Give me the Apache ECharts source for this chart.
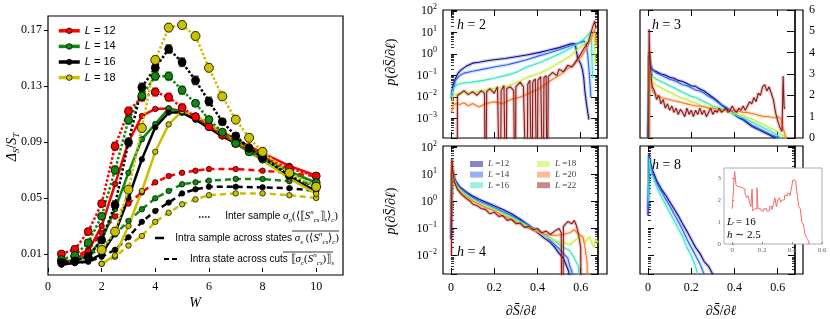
<!DOCTYPE html>
<html><head><meta charset="utf-8">
<script src="https://cdn.jsdelivr.net/npm/echarts@6/dist/echarts.min.js"></script>
<style>html,body{margin:0;padding:0;background:#fff}#c{width:830px;height:319px}</style>
</head><body><div id="c"></div>
<script>
// ---------------- Left panel data ----------------
const W = [0.5,1,1.5,2,2.5,3,3.5,4,4.5,5,5.5,6,6.5,7,7.5,8,9,10];
const inter12 = [0.0100,0.0134,0.0260,0.0460,0.0870,0.1120,0.1220,0.1257,0.1220,0.1145,0.1080,0.1010,0.0950,0.0890,0.0840,0.0790,0.0712,0.0657];
const inter14 = [0.0060,0.0090,0.0180,0.0370,0.0700,0.1057,0.1230,0.1370,0.1370,0.1270,0.1176,0.1060,0.0970,0.0890,0.0830,0.0780,0.0680,0.0610];
const inter16 = [0.0040,0.0050,0.0080,0.0200,0.0450,0.0898,0.1290,0.1430,0.1564,0.1470,0.1340,0.1190,0.1045,0.0943,0.0855,0.0790,0.0660,0.0580];
const inter18 = [null,null,null,0.0129,0.0260,0.0560,0.1000,0.1486,0.1717,0.1736,0.1657,0.1430,0.1226,0.1060,0.0930,0.0830,0.0680,0.0580];
const intraS12 = [0.0040,0.0060,0.0120,0.0300,0.0600,0.0900,0.1086,0.1136,0.1140,0.1120,0.1070,0.1020,0.0970,0.0920,0.0870,0.0820,0.0730,0.0660];
const intraS14 = [0.0035,0.0050,0.0090,0.0200,0.0420,0.0680,0.0920,0.1028,0.1140,0.1110,0.1060,0.1010,0.0960,0.0910,0.0860,0.0800,0.0690,0.0610];
const intraS16 = [0.0025,0.0035,0.0050,0.0100,0.0250,0.0500,0.0776,0.1005,0.1110,0.1110,0.1060,0.1000,0.0940,0.0890,0.0830,0.0770,0.0650,0.0550];
const intraS18 = [null,null,null,0.0030,0.0090,0.0300,0.0550,0.0830,0.1026,0.1120,0.1090,0.1030,0.0960,0.0900,0.0830,0.0770,0.0640,0.0530];
const intraC12 = [0.0050,0.0080,0.0130,0.0250,0.0367,0.0460,0.0540,0.0612,0.0657,0.0680,0.0695,0.0707,null,0.0707,null,0.0695,0.0680,0.0655];
const intraC14 = [0.0035,0.0055,0.0090,0.0140,0.0240,0.0336,0.0420,0.0498,0.0550,0.0598,0.0612,0.0624,null,0.0636,null,0.0636,0.0620,0.0600];
const intraC16 = [0.0025,0.0035,0.0045,0.0080,0.0130,0.0220,0.0330,0.0407,0.0467,0.0533,0.0562,0.0580,null,0.0580,null,0.0576,0.0570,0.0550];
const intraC18 = [null,null,null,0.0030,0.0080,0.0160,0.0229,0.0330,0.0395,0.0455,0.0490,0.0520,null,0.0533,null,0.0533,0.0520,0.0500];
const err12 = [0.001,0.001,0.002,0.002,0.003,0.003,0.003,0.003,0.003,0.003,0.002,0.002,0.002,0.002,0.002,0.002,0.002,0.002];
const err14 = [0.001,0.001,0.002,0.002,0.003,0.003,0.003,0.003,0.003,0.003,0.002,0.002,0.002,0.002,0.002,0.002,0.002,0.002];
const err16 = [0.001,0.001,0.002,0.002,0.003,0.003,0.003,0.003,0.003,0.003,0.003,0.003,0.002,0.002,0.002,0.002,0.002,0.002];
const err18 = [0,0,0,0.002,0.003,0.003,0.003,0.003,0.003,0.003,0.003,0.003,0.003,0.003,0.003,0.003,0.002,0.002];
const leftTicksX = [0,2,4,6,8,10];
const leftTicksY = [0.01,0.05,0.09,0.13,0.17];

// ---------------- Right panels data ----------------
const Lright = ['12','14','16','18','20','22'];
const rightTicksX = [0,0.2,0.4,0.6];
const h2_12 = [[0.002,0.008],[0.008,0.03],[0.018,0.063],[0.03,0.12],[0.048,0.19],[0.07,0.27],[0.1,0.38],[0.13,0.42],[0.16,0.48],[0.2,0.55],[0.25,0.62],[0.3,0.75],[0.35,0.9],[0.41,1.2],[0.45,1.5],[0.5,2.0],[0.53,2.5],[0.55,2.9],[0.565,3.1],[0.575,2.8],[0.585,0.7],[0.6,0.35],[0.608,0.19],[0.614,0.08],[0.619,0.02],[0.628,0.004],[0.638,0.0009]];
const h2_14 = [[0.002,0.01],[0.008,0.02],[0.02,0.06],[0.04,0.1],[0.06,0.13],[0.1,0.16],[0.15,0.2],[0.2,0.25],[0.26,0.32],[0.3,0.4],[0.35,0.55],[0.41,0.85],[0.45,1.1],[0.5,1.6],[0.54,2.2],[0.57,2.8],[0.6,3.5],[0.615,4.0],[0.625,3.2],[0.632,1.0],[0.638,0.2],[0.643,0.04],[0.647,0.01]];
const h2_16 = [[0.002,0.01],[0.01,0.025],[0.03,0.04],[0.06,0.045],[0.1,0.05],[0.15,0.06],[0.2,0.075],[0.25,0.1],[0.3,0.14],[0.35,0.25],[0.41,0.4],[0.45,0.6],[0.5,1.0],[0.55,1.8],[0.58,2.8],[0.61,4.5],[0.63,7],[0.645,11],[0.65,5],[0.652,0.5],[0.655,0.08]];
const h2_18 = [[0.002,0.005],[0.01,0.012],[0.03,0.015],[0.06,0.016],[0.1,0.017],[0.15,0.02],[0.2,0.025],[0.25,0.03],[0.3,0.045],[0.35,0.08],[0.41,0.13],[0.45,0.2],[0.5,0.4],[0.55,0.8],[0.57,1.2],[0.6,2.2],[0.63,4],[0.65,6],[0.662,7],[0.665,2],[0.668,0.3]];
const h2_20 = [[0.003,0.002],[0.01,0.004],[0.02,0.005],[0.04,0.0045],[0.06,0.0055],[0.08,0.004],[0.1,0.005],[0.13,0.0035],[0.16,0.005],[0.2,0.006],[0.24,0.005],[0.28,0.008],[0.32,0.01],[0.36,0.015],[0.41,0.025],[0.45,0.05],[0.5,0.1],[0.53,0.18],[0.57,0.33],[0.6,0.7],[0.63,2],[0.65,6],[0.665,14],[0.672,16],[0.674,2.5]];
const h2_22 = [[0.028,1e-8],[0.03,0.012],[0.045,0.015],[0.06,0.02],[0.08,0.013],[0.1,0.018],[0.12,0.012],[0.14,0.02],[0.155,0.015],[0.16,1e-8],[0.165,0.018],[0.18,0.025],[0.2,0.015],[0.215,0.03],[0.228,1e-8],[0.232,0.02],[0.245,0.035],[0.254,1e-8],[0.258,0.025],[0.275,0.03],[0.29,0.02],[0.297,1e-8],[0.3,0.03],[0.32,0.05],[0.335,0.03],[0.352,1e-8],[0.355,0.04],[0.365,0.06],[0.375,1e-8],[0.378,0.05],[0.39,0.07],[0.398,1e-8],[0.402,0.06],[0.415,0.09],[0.426,1e-8],[0.43,0.08],[0.44,0.1],[0.445,1e-8],[0.45,0.09],[0.47,0.14],[0.49,0.1],[0.5,0.2],[0.52,0.15],[0.54,0.3],[0.56,0.25],[0.58,0.5],[0.6,1.0],[0.62,2.2],[0.635,3.5],[0.645,8],[0.655,18],[0.665,35],[0.67,15]];

const h3_12 = [[0,0],[0.004,3.8],[0.01,3.4],[0.02,3.2],[0.04,3.1],[0.06,3.0],[0.08,2.95],[0.1,2.85],[0.12,2.8],[0.14,2.7],[0.16,2.65],[0.18,2.55],[0.2,2.45],[0.22,2.42],[0.24,2.3],[0.26,2.2],[0.28,2.05],[0.3,1.9],[0.32,1.75],[0.34,1.55],[0.36,1.4],[0.38,1.25],[0.4,1.1],[0.42,0.95],[0.44,0.85],[0.46,0.7],[0.48,0.55],[0.5,0.45],[0.52,0.35],[0.54,0.25],[0.56,0.15],[0.58,0.05],[0.59,0]];
const h3_14 = [[0.002,0],[0.005,4.0],[0.01,3.5],[0.02,3.2],[0.04,3.05],[0.06,2.95],[0.08,2.85],[0.1,2.75],[0.12,2.7],[0.14,2.6],[0.16,2.5],[0.18,2.45],[0.2,2.35],[0.22,2.25],[0.24,2.2],[0.26,2.1],[0.28,1.95],[0.3,1.85],[0.32,1.7],[0.34,1.55],[0.36,1.45],[0.38,1.3],[0.4,1.15],[0.42,1.0],[0.44,0.9],[0.46,0.75],[0.48,0.6],[0.5,0.5],[0.52,0.4],[0.54,0.3],[0.56,0.2],[0.58,0.1],[0.6,0.02],[0.605,0]];
const h3_16 = [[0.003,0],[0.005,3.9],[0.01,3.2],[0.02,2.9],[0.04,2.75],[0.06,2.65],[0.08,2.55],[0.1,2.45],[0.12,2.35],[0.14,2.25],[0.16,2.15],[0.18,2.05],[0.2,1.95],[0.22,1.9],[0.24,1.8],[0.26,1.7],[0.28,1.6],[0.3,1.5],[0.32,1.45],[0.34,1.35],[0.36,1.3],[0.38,1.2],[0.4,1.1],[0.42,1.0],[0.44,0.95],[0.46,0.85],[0.48,0.75],[0.5,0.65],[0.52,0.55],[0.54,0.45],[0.56,0.35],[0.58,0.25],[0.6,0.12],[0.615,0.02],[0.62,0]];
const h3_18 = [[0.003,0],[0.005,4.1],[0.01,3.0],[0.02,2.6],[0.04,2.45],[0.06,2.35],[0.08,2.25],[0.1,2.15],[0.12,2.05],[0.14,1.95],[0.16,1.85],[0.18,1.8],[0.2,1.7],[0.22,1.65],[0.24,1.55],[0.26,1.5],[0.28,1.45],[0.3,1.4],[0.32,1.35],[0.34,1.3],[0.36,1.25],[0.38,1.2],[0.4,1.15],[0.42,1.1],[0.44,1.05],[0.46,0.95],[0.48,0.9],[0.5,0.8],[0.52,0.7],[0.54,0.6],[0.56,0.5],[0.58,0.4],[0.6,0.3],[0.62,0.15],[0.635,0.05],[0.64,0]];
const h3_20 = [[0.003,0],[0.005,4.0],[0.01,2.8],[0.02,2.2],[0.04,2.0],[0.06,1.9],[0.08,1.85],[0.1,1.8],[0.12,1.75],[0.14,1.7],[0.16,1.65],[0.18,1.6],[0.2,1.55],[0.22,1.5],[0.24,1.5],[0.26,1.45],[0.28,1.4],[0.3,1.4],[0.32,1.35],[0.34,1.3],[0.36,1.3],[0.38,1.25],[0.4,1.3],[0.42,1.25],[0.44,1.2],[0.46,1.2],[0.48,1.15],[0.5,1.1],[0.52,1.05],[0.54,1.0],[0.56,1.0],[0.58,0.95],[0.6,1.0],[0.615,0.9],[0.625,0.5],[0.635,0.1],[0.64,0]];
const h3_22 = [[0.003,0],[0.005,5.1],[0.008,4.0],[0.015,2.8],[0.02,2.4],[0.03,2.2],[0.04,1.8],[0.05,2.0],[0.06,1.6],[0.07,1.8],[0.08,1.4],[0.09,1.6],[0.1,1.3],[0.11,1.5],[0.12,1.2],[0.13,1.4],[0.14,1.1],[0.15,1.35],[0.16,1.2],[0.17,1.0],[0.18,1.4],[0.19,1.1],[0.2,1.3],[0.21,1.0],[0.22,1.3],[0.23,1.1],[0.24,1.4],[0.25,1.1],[0.26,1.3],[0.27,1.0],[0.28,1.2],[0.29,1.4],[0.3,1.1],[0.31,1.3],[0.32,1.2],[0.33,1.4],[0.34,1.2],[0.35,1.3],[0.36,1.4],[0.37,1.2],[0.38,1.3],[0.39,1.5],[0.4,1.3],[0.41,1.2],[0.42,1.4],[0.43,1.3],[0.44,1.5],[0.45,1.3],[0.46,1.5],[0.47,1.7],[0.48,1.6],[0.49,1.9],[0.5,1.7],[0.51,2.1],[0.52,2.0],[0.53,2.4],[0.54,2.5],[0.55,2.2],[0.56,2.4],[0.57,2.1],[0.58,1.8],[0.59,1.2],[0.6,0.8],[0.61,0.5],[0.62,0.3],[0.625,2.9],[0.63,1.4],[0.635,1.4]];

const h4_12 = [[0,0.04],[0.003,8],[0.006,15],[0.01,10],[0.02,6],[0.04,3.5],[0.06,2.6],[0.08,2.0],[0.1,1.6],[0.13,1.2],[0.16,0.95],[0.2,0.7],[0.24,0.5],[0.28,0.35],[0.32,0.22],[0.36,0.13],[0.4,0.07],[0.43,0.045],[0.46,0.03],[0.48,0.02],[0.5,0.012],[0.52,0.008],[0.535,0.004],[0.545,0.0025],[0.55,1e-8]];
const h4_14 = [[0.002,0.5],[0.004,12],[0.008,12],[0.015,7],[0.03,4],[0.05,2.8],[0.07,2.1],[0.1,1.4],[0.13,1.05],[0.16,0.85],[0.2,0.6],[0.24,0.42],[0.28,0.3],[0.32,0.2],[0.36,0.13],[0.4,0.08],[0.44,0.05],[0.47,0.03],[0.5,0.018],[0.52,0.012],[0.54,0.008],[0.55,0.004],[0.56,0.0025],[0.565,1e-8]];
const h4_16 = [[0.002,0.9],[0.004,15],[0.008,12],[0.015,6.5],[0.03,3.6],[0.05,2.4],[0.07,1.8],[0.1,1.25],[0.13,0.95],[0.16,0.75],[0.2,0.55],[0.24,0.38],[0.28,0.27],[0.32,0.18],[0.36,0.12],[0.4,0.08],[0.44,0.055],[0.48,0.035],[0.52,0.02],[0.55,0.015],[0.57,0.008],[0.59,0.004],[0.6,1e-8]];
const h4_18 = [[0.002,0.3],[0.004,20],[0.008,13],[0.015,6],[0.03,3.3],[0.05,2.2],[0.07,1.6],[0.1,1.15],[0.13,0.85],[0.16,0.65],[0.2,0.48],[0.24,0.33],[0.28,0.24],[0.32,0.16],[0.36,0.11],[0.4,0.075],[0.44,0.05],[0.48,0.035],[0.52,0.03],[0.55,0.025],[0.58,0.04],[0.6,0.06],[0.62,0.03],[0.64,0.05],[0.66,0.02],[0.67,0.04],[0.68,0.03]];
const h4_20 = [[0.002,0.1],[0.004,30],[0.008,15],[0.015,6],[0.03,3],[0.05,2.0],[0.07,1.5],[0.1,1.05],[0.13,0.8],[0.16,0.6],[0.2,0.45],[0.24,0.3],[0.28,0.22],[0.32,0.15],[0.36,0.1],[0.4,0.075],[0.44,0.06],[0.48,0.055],[0.52,0.06],[0.55,0.07],[0.57,0.09],[0.59,0.06],[0.61,0.05],[0.62,0.02],[0.63,0.005],[0.635,1e-8]];
const h4_22 = [[0.002,0.01],[0.004,40],[0.008,15],[0.015,5.5],[0.03,2.8],[0.05,1.8],[0.07,1.3],[0.09,1.0],[0.1,0.8],[0.12,0.7],[0.14,0.55],[0.16,0.5],[0.18,0.35],[0.2,0.4],[0.22,0.28],[0.24,0.3],[0.26,0.2],[0.28,0.22],[0.3,0.15],[0.32,0.16],[0.34,0.11],[0.36,0.12],[0.38,0.09],[0.4,0.1],[0.42,0.07],[0.44,0.08],[0.46,0.06],[0.48,0.08],[0.5,0.1],[0.51,0.07],[0.515,1e-8],[0.52,0.12],[0.54,0.18],[0.56,0.15],[0.57,0.2],[0.58,0.13],[0.59,0.06],[0.6,0.02],[0.605,1e-8]];

const h8_12 = [[0,0.3],[0.005,60],[0.01,30],[0.02,15],[0.04,6],[0.06,3],[0.08,1.8],[0.1,1.0],[0.12,0.55],[0.14,0.3],[0.16,0.15],[0.18,0.08],[0.2,0.04],[0.22,0.02],[0.24,0.012],[0.26,0.006],[0.28,0.004],[0.3,0.002]];
const h8_14 = [[0.002,0.5],[0.005,50],[0.01,25],[0.02,12],[0.04,5],[0.06,2.5],[0.08,1.3],[0.1,0.7],[0.12,0.35],[0.14,0.18],[0.16,0.09],[0.18,0.04],[0.2,0.02],[0.22,0.01],[0.24,0.005],[0.26,0.002]];
const h8_16 = [[0.003,1],[0.005,40],[0.01,20],[0.02,9],[0.04,3.5],[0.06,1.6],[0.08,0.8],[0.1,0.4],[0.12,0.2],[0.14,0.1],[0.16,0.05],[0.18,0.02],[0.2,0.01],[0.22,0.004],[0.23,0.002]];

const inset_L16 = [[0,1.6],[0.01,1.6],[0.012,2.8],[0.02,3.3],[0.03,2.7],[0.04,2.6],[0.06,2.55],[0.08,2.5],[0.09,2.3],[0.1,2.1],[0.11,2.2],[0.12,1.9],[0.13,1.7],[0.135,2.5],[0.14,1.5],[0.16,1.6],[0.17,2.55],[0.175,1.6],[0.19,1.6],[0.2,1.5],[0.22,1.6],[0.24,1.5],[0.26,1.7],[0.27,1.55],[0.28,1.8],[0.29,2.1],[0.3,1.7],[0.31,2.0],[0.32,2.1],[0.33,1.9],[0.34,2.0],[0.36,2.2],[0.38,2.3],[0.39,2.2],[0.4,2.5],[0.41,2.9],[0.42,2.9],[0.43,2.8],[0.44,2.2],[0.45,1.7],[0.46,1.6],[0.47,1.0],[0.48,0.9],[0.49,0.5],[0.5,0.3],[0.51,0.2],[0.52,0.0]];

// ---------------- styling ----------------
const SERIF = 'Liberation Serif';
const SANS = 'Liberation Sans';
const leftColors = {'12':'#ff0000','14':'#0f8a0f','16':'#000000','18':'#c8c000'};
const errColors = {'12':'#ff7070','14':'#5fb05f','16':'#555555','18':'#dcd45a'};
const rightColors = {'12':'#0d0d8c','14':'#2b62f2','16':'#35e6c8','18':'#c6ee3a','20':'#ff7a20','22':'#8c1818'};

const leftSets = {
  '12':{inter:inter12,intraS:intraS12,intraC:intraC12,err:err12},
  '14':{inter:inter14,intraS:intraS14,intraC:intraC14,err:err14},
  '16':{inter:inter16,intraS:intraS16,intraC:intraC16,err:err16},
  '18':{inter:inter18,intraS:intraS18,intraC:intraC18,err:err18}
};
const rightSets = {
  h2:{'12':h2_12,'14':h2_14,'16':h2_16,'18':h2_18,'20':h2_20,'22':h2_22},
  h3:{'12':h3_12,'14':h3_14,'16':h3_16,'18':h3_18,'20':h3_20,'22':h3_22},
  h4:{'12':h4_12,'14':h4_14,'16':h4_16,'18':h4_18,'20':h4_20,'22':h4_22},
  h8:{'12':h8_12,'14':h8_14,'16':h8_16}
};

const TOP_LOG = [1.26e-4, 112];
const BOT_LOG = [2.07e-3, 113];
const XR = [-0.037, 0.68];

function logLabel(v){
  const e = Math.log10(v); const r = Math.round(e);
  if (Math.abs(e - r) > 1e-6) return '';
  return '{b|10}{s|' + (r < 0 ? '\u2212' + (-r) : r) + '}';
}
const logRich = {b:{fontSize:12,fontFamily:SERIF,color:'#000',lineHeight:16}, s:{fontSize:8,fontFamily:SERIF,color:'#000',verticalAlign:'top',lineHeight:9}};

const grids = [
  {left:48, top:16, width:295, height:259},   //0 left
  {left:443, top:10, width:155, height:128},  //1 h2
  {left:640, top:10, width:155, height:128},  //2 h3
  {left:443, top:146, width:155, height:128}, //3 h4
  {left:640, top:146, width:155, height:128}, //4 h8
  {left:724, top:168, width:98, height:76, z:10, backgroundColor:'#fff', borderColor:'#999', borderWidth:0.8}, //5 inset
  {left:598, top:10, width:9, height:128},    //6 ruler h2
  {left:795, top:10, width:8, height:128},    //7 ruler h3
  {left:598, top:146, width:9, height:128},   //8 ruler h4
  {left:795, top:146, width:8, height:128}    //9 ruler h8
].map(g => Object.assign({show:true, borderColor:'#000', borderWidth:1.2, containLabel:false}, g));

function rightX(gi, pos, labels){
  return {type:'value', gridIndex:gi, position:pos, min:XR[0], max:XR[1],
    axisLine:{show:false}, splitLine:{show:false},
    axisTick:{show:true, inside:true, length:6, customValues:rightTicksX, lineStyle:{color:'#000', width:1}},
    axisLabel:{show:labels, customValues:rightTicksX, fontFamily:SERIF, fontSize:12, color:'#000', margin:8,
      formatter: v => v === 0 ? '0' : v.toFixed(1)}};
}
function hiddenX(gi){ return {type:'value', gridIndex:gi, min:0, max:1, show:false}; }

const xAxis = [
  {type:'value', gridIndex:0, min:0, max:11, axisLine:{show:false}, splitLine:{show:false},
   axisTick:{customValues:leftTicksX, length:4, lineStyle:{color:'#000'}},
   axisLabel:{customValues:leftTicksX, fontFamily:SERIF, fontSize:12, color:'#000', margin:6}},
  rightX(1,'bottom',false), rightX(2,'bottom',false), rightX(3,'bottom',true), rightX(4,'bottom',true),
  {type:'value', gridIndex:5, min:-0.055, max:0.6, z:11, axisLine:{show:false}, splitLine:{show:false},
   axisTick:{inside:true, length:2, customValues:rightTicksX, lineStyle:{color:'#888'}},
   axisLabel:{customValues:rightTicksX, fontFamily:SERIF, fontSize:7, color:'#666', margin:3, formatter: v => v === 0 ? '0' : v.toFixed(1)}},
  rightX(1,'top',false), rightX(2,'top',false), rightX(3,'top',false), rightX(4,'top',false),
  hiddenX(6), hiddenX(7), hiddenX(8), hiddenX(9)
];

function logY(gi, ext, pos, labels, tickLen){
  return {type:'log', logBase:10, gridIndex:gi, position:pos, min:ext[0], max:ext[1],
    axisLine:{show:false}, splitLine:{show:false},
    axisTick:{show:true, inside:true, length:tickLen, lineStyle:{color:'#000', width:1}},
    minorTick:{show:true, splitNumber:9, length:3, lineStyle:{color:'#000', width:0.8}},
    axisLabel:{show:labels, formatter:logLabel, rich:logRich, margin:6}};
}

const yAxis = [
  {type:'value', gridIndex:0, min:-0.005, max:0.18, axisLine:{show:false}, splitLine:{show:false},
   axisTick:{customValues:leftTicksY, length:4, lineStyle:{color:'#000'}},
   axisLabel:{customValues:leftTicksY, fontFamily:SERIF, fontSize:12, color:'#000', margin:6, formatter: v => v.toFixed(2)}},
  logY(1, TOP_LOG, 'left', true, 6),
  {type:'value', gridIndex:2, min:0, max:6, interval:1, axisLine:{show:false}, splitLine:{show:false},
   axisTick:{inside:true, length:5, lineStyle:{color:'#000'}}, axisLabel:{show:false}},
  logY(3, BOT_LOG, 'left', true, 6),
  logY(4, BOT_LOG, 'left', false, 6),
  {type:'value', gridIndex:5, min:0, max:3.45, z:11, axisLine:{show:false}, splitLine:{show:false},
   axisTick:{inside:true, length:2, customValues:[0,1,2,3], lineStyle:{color:'#888'}},
   axisLabel:{customValues:[0,1,2,3], fontFamily:SERIF, fontSize:7, color:'#666', margin:3}},
  logY(6, TOP_LOG, 'right', false, 7),
  {type:'value', gridIndex:7, position:'right', min:0, max:6, interval:1, axisLine:{show:false}, splitLine:{show:false},
   axisTick:{inside:true, length:8, lineStyle:{color:'#000'}},
   axisLabel:{show:true, fontFamily:SERIF, fontSize:12, color:'#000', margin:6}},
  logY(8, BOT_LOG, 'right', false, 7),
  logY(9, BOT_LOG, 'right', false, 7)
];

const series = [];
// left panel
['12','14','16','18'].forEach(L => {
  const s = leftSets[L], c = leftColors[L];
  const pts = arr => W.map((w,i) => [w, arr[i] == null ? null : arr[i]]);
  series.push({type:'custom', xAxisIndex:0, yAxisIndex:0, z:3, silent:true,
    data: W.map((w,i) => s.inter[i] == null ? null : [w, s.inter[i]-s.err[i], s.inter[i]+s.err[i]]).filter(d => d),
    renderItem:(p, api) => {
      const a = api.coord([api.value(0), api.value(1)]), b = api.coord([api.value(0), api.value(2)]);
      const st = {stroke:errColors[L], lineWidth:1.5};
      return {type:'group', children:[
        {type:'line', shape:{x1:a[0],y1:a[1],x2:b[0],y2:b[1]}, style:st},
        {type:'line', shape:{x1:a[0]-3,y1:a[1],x2:a[0]+3,y2:a[1]}, style:st},
        {type:'line', shape:{x1:b[0]-3,y1:b[1],x2:b[0]+3,y2:b[1]}, style:st}]};
    }});
  series.push({type:'line', name:'L = ' + L, xAxisIndex:0, yAxisIndex:0, data:pts(s.intraC), connectNulls:true,
    symbol:'circle', symbolSize:5.5, z:4, lineStyle:{color:c, width:2.5, type:[6,4]},
    itemStyle:{color:c, borderColor:'#000', borderWidth:0.7}});
  series.push({type:'line', name:'L = ' + L, xAxisIndex:0, yAxisIndex:0, data:pts(s.intraS), connectNulls:true,
    symbol:'circle', symbolSize:5.5, z:4, lineStyle:{color:c, width:2.5},
    itemStyle:{color:c, borderColor:'#000', borderWidth:0.7}});
  series.push({type:'line', name:'L = ' + L, xAxisIndex:0, yAxisIndex:0, data:pts(s.inter), connectNulls:true,
    symbol:'circle', symbolSize: L === '18' ? 9 : 8, z:5, lineStyle:{color:c, width:2.5, type:[2.5,2]},
    itemStyle:{color:c, borderColor:'#000', borderWidth:0.8}});
});
// right panels
const panelAxis = {h2:1, h3:2, h4:3, h8:4};
Object.keys(rightSets).forEach(h => {
  Lright.forEach(L => {
    const d = rightSets[h][L]; if (!d) return;
    const c = rightColors[L];
    series.push({type:'line', name:'L =' + L, xAxisIndex:panelAxis[h], yAxisIndex:panelAxis[h], data:d,
      showSymbol:false, symbol:'none', clip:true, z:2, silent:true,
      lineStyle:{color:c, width:3.5, opacity:0.22}, itemStyle:{color:c}});
    series.push({type:'line', name:'L =' + L, xAxisIndex:panelAxis[h], yAxisIndex:panelAxis[h], data:d,
      showSymbol:false, symbol:'none', clip:true, z:3,
      lineStyle:{color:c, width:1.1}, itemStyle:{color:c}});
  });
});
series.push({type:'line', name:'inset', xAxisIndex:5, yAxisIndex:5, data:inset_L16, step:'middle',
  showSymbol:false, symbol:'none', clip:true, z:12, lineStyle:{color:'#f26b6b', width:1}});

const rich = {
  t:{fontFamily:SANS, fontSize:10, color:'#000', lineHeight:15},
  m:{fontFamily:SERIF, fontStyle:'italic', fontSize:11, color:'#000', lineHeight:15},
  r:{fontFamily:SERIF, fontSize:11, color:'#000', lineHeight:15},
  sb:{fontFamily:SERIF, fontStyle:'italic', fontSize:7, color:'#000', lineHeight:8, verticalAlign:'bottom'},
  sp:{fontFamily:SERIF, fontStyle:'italic', fontSize:7, color:'#000', lineHeight:8, verticalAlign:'top'}
};
const bigRich = {
  m:{fontFamily:SERIF, fontStyle:'italic', fontSize:14, color:'#000', lineHeight:18},
  r:{fontFamily:SERIF, fontSize:14, color:'#000', lineHeight:18},
  sb:{fontFamily:SERIF, fontStyle:'italic', fontSize:9, color:'#000', lineHeight:10, verticalAlign:'bottom'}
};
function txt(x, y, text, r, extra, el){
  return Object.assign({type:'text', x:x, y:y, z:100, style:Object.assign({text:text, rich:r, fill:'#000', align:'left', verticalAlign:'middle'}, extra||{})}, el||{});
}
const ROT = {rotation:Math.PI/2};
const hText = n => '{m|h}{r| = ' + n + '}';
const pText = '{m|p}{r|(\u2202}{m|S\u0304}{r|/\u2202}{m|\u2113}{r|)}';
const graphic = [
  txt(12, 147, '{m|\u0394}{sb|S}{r|/}{m|S}{sb|T}', bigRich, {align:'center'}, ROT),
  txt(195, 303, '{m|W}', bigRich, {align:'center'}),
  txt(391, 62, pText, bigRich, {align:'center'}, ROT),
  txt(391, 211, pText, bigRich, {align:'center'}, ROT),
  txt(521, 311, '{r|\u2202}{m|S\u0304}{r|/\u2202}{m|\u2113}', bigRich, {align:'center'}),
  txt(721, 311, '{r|\u2202}{m|S\u0304}{r|/\u2202}{m|\u2113}', bigRich, {align:'center'}),
  txt(457, 25, hText(2), bigRich),
  txt(652, 25, hText(3), bigRich),
  txt(457, 252, hText(4), bigRich),
  txt(652, 165, hText(8), bigRich),
  txt(727, 222, '{m|L}{r| = 16}', {m:{fontFamily:SERIF,fontStyle:'italic',fontSize:11,color:'#333'}, r:{fontFamily:SERIF,fontSize:11,color:'#333'}}, null, {z:120}),
  txt(727, 235, '{m|h}{r| \u223c 2.5}', {m:{fontFamily:SERIF,fontStyle:'italic',fontSize:11,color:'#333'}, r:{fontFamily:SERIF,fontSize:11,color:'#333'}}, null, {z:120}),
  // line style key
  {type:'line', z:100, shape:{x1:199,y1:217,x2:210,y2:217}, style:{stroke:'#000', lineWidth:1.6, lineDash:[1.5,1.5]}},
  txt(338, 216, '{t|Inter sample }{m|\u03c3}{sb|n}{r|(\u27e8\u27e6}{m|S}{sp|n}{sb|cs}{r|\u27e7}{sb|s}{r|\u27e9}{sb|c}{r|)}', rich, {align:'right'}),
  {type:'line', z:100, shape:{x1:155,y1:238,x2:164,y2:238}, style:{stroke:'#000', lineWidth:2.5}},
  txt(339, 238, '{t|Intra sample across states }{m|\u03c3}{sb|s}{r| (\u27e8}{m|S}{sp|n}{sb|cs}{r|\u27e9}{sb|c}{r|)}', rich, {align:'right'}),
  {type:'line', z:100, shape:{x1:292,y1:231,x2:339,y2:231}, style:{stroke:'#000', lineWidth:0.8}},
  {type:'line', z:100, shape:{x1:164,y1:259,x2:178,y2:259}, style:{stroke:'#000', lineWidth:2.2, lineDash:[5,3]}},
  txt(334, 259, '{t|Intra state across cuts }{r|\u27e6}{m|\u03c3}{sb|c}{r|(}{m|S}{sp|n}{sb|cs}{r|)\u27e7}{sb|s}', rich, {align:'right'}),
  {type:'line', z:100, shape:{x1:283,y1:252,x2:333,y2:252}, style:{stroke:'#000', lineWidth:0.8}}
];

const legendRichL = {i:{fontFamily:SANS, fontStyle:'italic', fontSize:11, color:'#000'}, n:{fontFamily:SANS, fontSize:11, color:'#000'}};
const legendRichR = {i:{fontFamily:SERIF, fontStyle:'italic', fontSize:9, color:'#444'}, n:{fontFamily:SERIF, fontSize:9, color:'#444'}};
function rLegendItem(L){ return {name:'L =' + L, icon:'rect', itemStyle:{color:rightColors[L], opacity:0.5}}; }

const option = {
  animation:false,
  backgroundColor:'#fff',
  grid:grids, xAxis:xAxis, yAxis:yAxis, series:series, graphic:graphic,
  legend:[
    {left:57, top:23, orient:'vertical', padding:0, itemWidth:21, itemHeight:7, itemGap:0, selectedMode:false,
     textStyle:{rich:legendRichL, lineHeight:15.6},
     formatter: n => '{i|L}{n| = ' + n.split('= ')[1] + '}',
     data:['12','14','16','18'].map(L => ({name:'L = ' + L, lineStyle:{type:'solid', width:3.5, color:leftColors[L]}, itemStyle:{color:leftColors[L], borderColor:'#000', borderWidth:0.7}}))},
    {left:470, top:159, orient:'vertical', padding:0, itemWidth:13, itemHeight:6, itemGap:0.6, selectedMode:false,
     textStyle:{rich:legendRichR, lineHeight:10},
     formatter: n => '{i|L}{n| =' + n.split('=')[1] + '}',
     data:['12','14','16'].map(rLegendItem)},
    {left:537, top:159, orient:'vertical', padding:0, itemWidth:13, itemHeight:6, itemGap:0.6, selectedMode:false,
     textStyle:{rich:legendRichR, lineHeight:10},
     formatter: n => '{i|L}{n| =' + n.split('=')[1] + '}',
     data:['18','20','22'].map(rLegendItem)}
  ]
};
const chart = echarts.init(document.getElementById('c'), null, {renderer:'canvas'});
chart.setOption(option);
</script></body></html>
